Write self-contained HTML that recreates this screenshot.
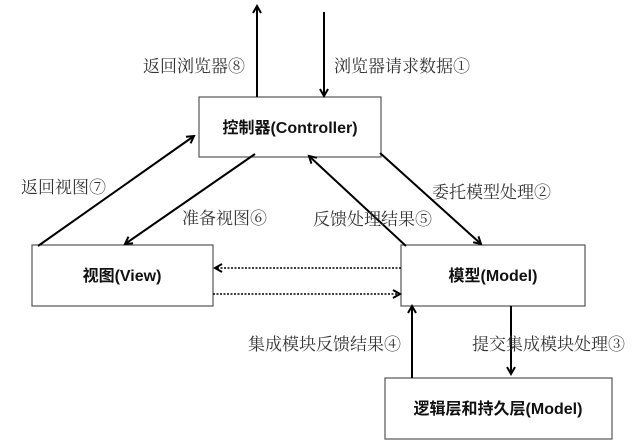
<!DOCTYPE html>
<html><head><meta charset="utf-8"><style>
body{margin:0;background:#fff;}
svg{display:block;}
text{font-family:"Liberation Sans","Noto Sans CJK SC",sans-serif;}
.l{font-size:17px;fill:#333;font-family:"Liberation Serif","Noto Serif CJK SC",serif;}
.b{font-size:16px;font-weight:bold;fill:#111;}
</style></head><body>
<svg width="633" height="444" viewBox="0 0 633 444">
<defs>
<marker id="a" markerWidth="10" markerHeight="10" refX="8" refY="5" orient="auto" markerUnits="userSpaceOnUse">
<path d="M1,1 L8,5 L1,9" fill="none" stroke="#000" stroke-width="2"/>
</marker>
</defs>
<g fill="#fff" stroke="#555" stroke-width="1.2">
<rect x="199" y="97" width="182" height="60"/>
<rect x="32" y="245" width="181" height="61"/>
<rect x="401" y="245" width="184" height="61"/>
<rect x="385" y="378" width="227" height="61"/>
</g>
<g stroke="#000" stroke-width="2" fill="none" marker-end="url(#a)">
<line x1="257" y1="97" x2="257" y2="6"/>
<line x1="324" y1="12" x2="324" y2="96"/>
<line x1="38" y1="246" x2="194" y2="136"/>
<line x1="255" y1="154" x2="125" y2="244"/>
<line x1="406" y1="246" x2="309" y2="156"/>
<line x1="380" y1="153" x2="481" y2="244"/>
<line x1="412" y1="378" x2="412" y2="306"/>
<line x1="511" y1="306" x2="511" y2="374"/>
</g>
<g stroke="#000" stroke-width="1.5" stroke-dasharray="2,1.5" fill="none" marker-end="url(#a)">
<line x1="401" y1="268" x2="215" y2="268"/>
<line x1="213" y1="294" x2="400" y2="294"/>
</g>
<text class="l" x="143" y="72">返回浏览器⑧</text>
<text class="l" x="334" y="72">浏览器请求数据①</text>
<text class="l" x="21" y="193">返回视图⑦</text>
<text class="l" x="182" y="224">准备视图⑥</text>
<text class="l" x="313" y="225">反馈处理结果⑤</text>
<text class="l" x="432" y="198">委托模型处理②</text>
<text class="l" x="248" y="350">集成模块反馈结果④</text>
<text class="l" x="472" y="350">提交集成模块处理③</text>
<text class="b" x="290" y="133" text-anchor="middle">控制器(Controller)</text>
<text class="b" x="122" y="281" text-anchor="middle">视图(View)</text>
<text class="b" x="493" y="281" text-anchor="middle">模型(Model)</text>
<text class="b" x="498" y="414" text-anchor="middle">逻辑层和持久层(Model)</text>
</svg>
</body></html>
